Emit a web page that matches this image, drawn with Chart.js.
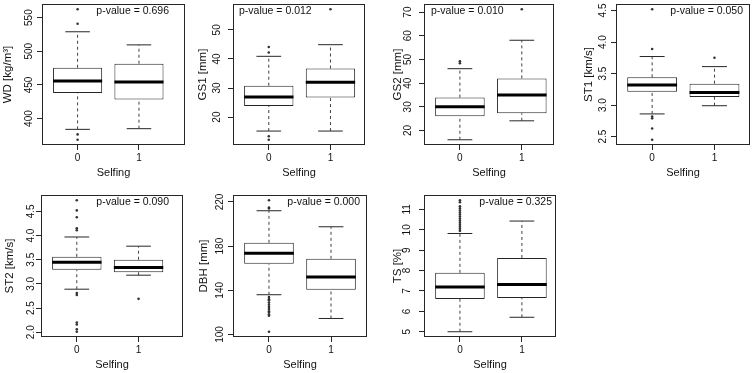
<!DOCTYPE html>
<html>
<head>
<meta charset="utf-8">
<script src="https://cdn.jsdelivr.net/npm/chart.js@4.4.1/dist/chart.umd.min.js"></script>
<style>
  body { margin: 0; background: #fff; width: 754px; height: 373px; position: relative; overflow: hidden; }
  canvas { position: absolute; }
</style>
</head>
<body>
<script>
// Selfing groups on the x axis
const groups = ['0', '1'];
const pValues = ['0.696', '0.012', '0.010', '0.050', '0.090', '0.000', '0.325'];

// [lower whisker, Q1, median, Q3, upper whisker] for Selfing = 0 and 1
const wdStats = [[384, 438, 456, 475.5, 529], [385, 428.5, 454.5, 481.5, 509.5]];
const wdOutliers = [[562.5, 541, 376.5, 368.5], []];
const wdTicks = ['400', '450', '500', '550'];

const gs1Stats = [[15.2, 23.8, 26.9, 30.8, 40.9], [15.2, 26.7, 32, 36.7, 44.9]];
const gs1Outliers = [[44.1, 42.2, 13.4, 12.2], [57.1]];
const gs1Ticks = ['20', '30', '40', '50'];

const gs2Stats = [[16.1, 26, 30, 33.9, 46.1], [24.1, 27.3, 35, 42, 58.1]];
const gs2Outliers = [[49.2, 48.4], [71.2]];
const gs2Ticks = ['20', '30', '40', '50', '60', '70'];

const st1Stats = [[2.86, 3.21, 3.32, 3.44, 3.77], [2.99, 3.13, 3.2, 3.34, 3.61]];
const st1Outliers = [[4.52, 3.89, 2.82, 2.79, 2.63, 2.45], [3.75]];
const st1Ticks = ['2.5', '3.0', '3.5', '4.0', '4.5'];

const st2Stats = [[2.89, 3.29, 3.45, 3.56, 3.97], [3.18, 3.24, 3.34, 3.5, 3.78]];
const st2Outliers = [[4.73, 4.52, 4.38, 4.15, 4.11, 2.81, 2.77, 2.2, 2.16, 2.06, 2.01], [2.69]];
const st2Ticks = ['2.0', '2.5', '3.0', '3.5', '4.0', '4.5'];

const dbhStats = [[136, 164, 173.5, 183, 212], [114.5, 140.5, 152, 168.5, 197.5]];
const dbhOutliers = [[221.5, 215, 214, 134, 132, 131, 129, 127, 125, 123, 121, 120, 118, 117, 102.5], []];
const dbhTicks = ['100', '140', '180', '220'];

const tsStats = [[5.0, 6.61, 7.19, 7.89, 9.82], [5.71, 6.66, 7.32, 8.62, 10.43]];
const tsOutliers = [[11.45, 11.35, 11.15, 11.05, 10.95, 10.85, 10.75, 10.65, 10.55, 10.45, 10.35, 10.25, 10.15, 10.05, 9.95], []];
const tsTicks = ['5', '6', '7', '8', '9', '10', '11'];

const LINE = '#262626';
const DASH = '#404040';
const TEXT = '#111';
const FONT = '"Liberation Sans", Arial, Helvetica, sans-serif';
Chart.defaults.font.family = FONT;

// plot box on the page [left, top, right, bottom] and text placement
const panels = [
  { label: 'WD [kg/m³]', stats: wdStats, outliers: wdOutliers, ticks: wdTicks, p: pValues[0], box: [42, 3, 186, 145], xMax: 2.75, titleGap: 34, labelGap: 13, pSide: 'right', pInset: 16 },
  { label: 'GS1 [mm]', stats: gs1Stats, outliers: gs1Outliers, ticks: gs1Ticks, p: pValues[1], box: [233, 3, 366, 145], xMax: 2.56, titleGap: 30, labelGap: 15.5, pSide: 'left', pInset: 6 },
  { label: 'GS2 [mm]', stats: gs2Stats, outliers: gs2Outliers, ticks: gs2Ticks, p: pValues[2], box: [424, 3, 555, 145], xMax: 2.52, titleGap: 26, labelGap: 15.5, pSide: 'left', pInset: 7 },
  { label: 'ST1 [km/s]', stats: st1Stats, outliers: st1Outliers, ticks: st1Ticks, p: pValues[3], box: [616, 3, 751, 145], xMax: 2.57, titleGap: 27, labelGap: 12.5, pSide: 'right', pInset: 7 },
  { label: 'ST2 [km/s]', stats: st2Stats, outliers: st2Outliers, ticks: st2Ticks, p: pValues[4], box: [41, 194, 184, 337], xMax: 2.72, titleGap: 31, labelGap: 10, pSide: 'right', pInset: 14 },
  { label: 'DBH [mm]', stats: dbhStats, outliers: dbhOutliers, ticks: dbhTicks, p: pValues[5], box: [233, 194, 368, 337], xMax: 2.58, titleGap: 29, labelGap: 12.5, pSide: 'right', pInset: 7 },
  { label: 'TS [%]', stats: tsStats, outliers: tsOutliers, ticks: tsTicks, p: pValues[6], box: [424, 194, 557, 337], xMax: 2.55, titleGap: 26, labelGap: 16.5, pSide: 'right', pInset: 4 }
];

const measure = document.createElement('canvas').getContext('2d');

function segment(points, opts) {
  return Object.assign({
    type: 'line', data: points, borderColor: LINE, borderWidth: 1,
    pointRadius: 0, fill: false, tension: 0, order: 1
  }, opts || {});
}

function buildDatasets(stats, outliers) {
  const ds = [];
  // boxes Q1..Q3 as floating bars
  ds.push({
    type: 'bar',
    data: stats.map((s, i) => ({ x: i + 1, y: [s[1], s[3]] })),
    backgroundColor: '#fff', borderColor: LINE, borderWidth: 1, borderSkipped: false,
    inflateAmount: 0, categoryPercentage: 1, barPercentage: 0.8, order: 3
  });
  stats.forEach((s, i) => {
    const x = i + 1;
    ds.push(segment([{ x: x, y: s[3] }, { x: x, y: s[4] }], { borderDash: [3, 3], borderColor: DASH }));
    ds.push(segment([{ x: x, y: s[0] }, { x: x, y: s[1] }], { borderDash: [3, 3], borderColor: DASH }));
    ds.push(segment([{ x: x - 0.2, y: s[4] }, { x: x + 0.2, y: s[4] }]));
    ds.push(segment([{ x: x - 0.2, y: s[0] }, { x: x + 0.2, y: s[0] }]));
    ds.push(segment([{ x: x - 0.4, y: s[2] }, { x: x + 0.4, y: s[2] }], { borderWidth: 3, borderColor: '#000', order: 0 }));
  });
  outliers.forEach((list, i) => {
    ds.push({
      type: 'line', showLine: false, data: list.map(v => ({ x: i + 1, y: v })),
      pointRadius: 1.3, pointBackgroundColor: '#333', pointBorderWidth: 0, order: 0
    });
  });
  return ds;
}

panels.forEach(pn => {
  const [l, t, r, b] = pn.box;
  const yW = pn.titleGap + 7;
  const padTop = 3, padRight = 3, xH = 40;
  const canvas = document.createElement('canvas');
  canvas.width = yW + (r - l) + padRight;
  canvas.height = padTop + (b - t) + xH;
  canvas.style.left = (l - yW) + 'px';
  canvas.style.top = (t - padTop) + 'px';
  document.body.appendChild(canvas);

  // y range like R: data range stretched by 4%
  const all = pn.stats.flat().concat(pn.outliers.flat());
  const lo = Math.min(...all), hi = Math.max(...all);
  const ext = (hi - lo) * 0.04;

  measure.font = '10px ' + FONT;
  const widest = Math.max(...pn.ticks.map(s => measure.measureText(s).width));
  const labelPad = pn.labelGap - 5 - widest / 2;

  new Chart(canvas, {
    type: 'bar',
    data: { datasets: buildDatasets(pn.stats, pn.outliers) },
    options: {
      responsive: false,
      animation: false,
      layout: { padding: { top: padTop, right: padRight, left: 0, bottom: 0 } },
      plugins: { legend: { display: false }, tooltip: { enabled: false } },
      scales: {
        x: {
          type: 'linear', min: 0.42, max: pn.xMax, offset: false, bounds: 'data',
          afterBuildTicks: s => { s.ticks = groups.map((g, i) => ({ value: i + 1 })); },
          ticks: { callback: (v, i) => groups[i], padding: 2, font: { size: 10 }, color: TEXT, maxRotation: 0, autoSkip: false },
          grid: { drawOnChartArea: false, tickLength: 5, color: LINE, offset: false },
          border: { display: false },
          title: { display: true, text: 'Selfing', padding: { top: 0, bottom: 5 }, font: { size: 11 }, color: TEXT },
          afterFit: s => { s.height = xH; s.paddingLeft = 0; s.paddingRight = 0; }
        },
        y: {
          type: 'linear', min: lo - ext, max: hi + ext, bounds: 'data', beginAtZero: false,
          afterBuildTicks: s => { s.ticks = pn.ticks.map(v => ({ value: Number(v) })); },
          ticks: { callback: (v, i) => pn.ticks[i], minRotation: 90, maxRotation: 90, crossAlign: 'center', padding: labelPad, font: { size: 10 }, color: TEXT, autoSkip: false },
          grid: { drawOnChartArea: false, tickLength: 5, color: LINE },
          border: { display: false },
          title: { display: true, text: pn.label, padding: 0, font: { size: 11.5 }, color: TEXT },
          afterFit: s => { s.width = yW; s.paddingTop = 0; s.paddingBottom = 0; }
        }
      }
    },
    plugins: [{
      id: 'frameAndP',
      afterDraw(chart) {
        const { ctx, chartArea: a } = chart;
        ctx.save();
        ctx.strokeStyle = LINE;
        ctx.lineWidth = 1;
        ctx.strokeRect(Math.round(a.left) + 0.5, Math.round(a.top) + 0.5, Math.round(a.right - a.left) - 1, Math.round(a.bottom - a.top) - 1);
        ctx.fillStyle = TEXT;
        ctx.font = '10.5px ' + FONT;
        ctx.textBaseline = 'middle';
        ctx.textAlign = pn.pSide;
        const x = pn.pSide === 'right' ? a.right - pn.pInset : a.left + pn.pInset;
        ctx.fillText('p-value = ' + pn.p, x, a.top + 7);
        ctx.restore();
      }
    }]
  });
});
</script>
</body>
</html>
